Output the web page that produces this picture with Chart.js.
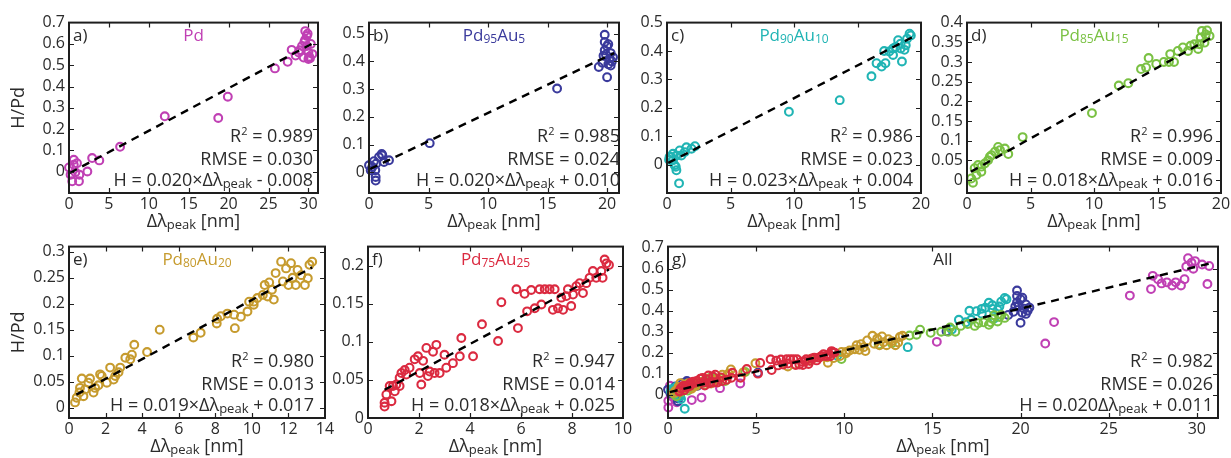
<!DOCTYPE html>
<html>
<head>
<meta charset="utf-8">
<script src="https://cdn.jsdelivr.net/npm/chart.js@4.4.0/dist/chart.umd.min.js"></script>
<style>
  body { margin: 0; background: #fff; width: 1231px; height: 458px; overflow: hidden; position: relative; }
  canvas { position: absolute; }
</style>
</head>
<body>
<script>
// ---- data: [Δλpeak (nm), H/Pd] ----
const pd = [[0,0.02],[0.2,-0.014],[0.4,-0.045],[0.6,0.033],[0.6,0.056],[0.8,-0.003],[1.0,0.04],[1.25,-0.045],[1.3,-0.014],
  [2.3,0.001],[2.9,0.064],[3.8,0.053],[6.4,0.117],[12.0,0.26],[18.7,0.252],[19.9,0.352],[25.8,0.485],[27.4,0.516],
  [27.9,0.572],[28.4,0.545],[28.8,0.56],[28.9,0.57],[29.2,0.59],[29.4,0.536],[29.6,0.66],[29.6,0.62],[29.8,0.637],
  [29.8,0.59],[30.0,0.529],[30.0,0.56],[30.1,0.54],[30.2,0.533],[30.5,0.552],[29.9,0.648],[29.5,0.61],[30.3,0.6]];
const pd95 = [[0,0.025],[0.14,0.007],[0.28,0.019],[0.42,0.04],[0.53,0.007],[0.56,-0.017],[0.56,-0.03],[0.6,0.031],
  [0.84,0.055],[1.07,0.066],[1.12,0.061],[1.26,0.037],[1.68,0.043],[5.1,0.105],[15.8,0.302],[19.3,0.38],[19.6,0.395],
  [19.7,0.42],[19.8,0.44],[19.8,0.47],[19.8,0.496],[20.0,0.455],[20.0,0.343],[20.1,0.462],[20.2,0.41],[20.3,0.43],
  [20.3,0.385],[20.4,0.4],[20.5,0.415],[19.9,0.425],[20.1,0.39]];
const pd90 = [[0.16,0.017],[0.2,0.027],[0.34,0.027],[0.47,0.015],[0.47,0.038],[0.6,-0.002],[0.69,-0.008],[0.74,0.032],
  [0.74,-0.02],[0.95,-0.066],[1.0,0.05],[1.13,0.032],[1.4,0.044],[1.53,0.061],[1.93,0.056],[2.2,0.065],[9.6,0.186],
  [13.6,0.227],[16.1,0.311],[16.5,0.357],[16.9,0.345],[17.1,0.4],[17.2,0.357],[17.5,0.398],[17.8,0.386],[17.8,0.409],
  [18.0,0.414],[18.2,0.438],[18.4,0.426],[18.4,0.409],[18.5,0.363],[18.7,0.404],[18.8,0.42],[18.9,0.443],[19.1,0.461],[19.2,0.455]];
const pd85 = [[0.34,0.004],[0.47,-0.007],[0.6,0.03],[0.74,0.013],[0.87,0.038],[1.13,0.034],[1.13,0.021],[1.4,0.042],
  [1.66,0.05],[1.8,0.059],[1.93,0.063],[2.2,0.072],[2.45,0.084],[2.6,0.076],[2.98,0.08],[3.25,0.066],[4.38,0.109],
  [9.84,0.17],[11.95,0.24],[12.7,0.246],[13.7,0.282],[14.1,0.286],[14.3,0.31],[14.9,0.295],[15.5,0.3],[15.9,0.3],
  [16.0,0.32],[16.3,0.3],[16.6,0.328],[17.0,0.337],[17.4,0.328],[17.6,0.341],[17.9,0.345],[18.2,0.333],[18.3,0.345],
  [18.4,0.362],[18.5,0.379],[18.7,0.349],[18.8,0.37],[18.9,0.38],[19.1,0.366]];
const pd80 = [[0.33,0.01],[0.42,0.019],[0.57,0.029],[0.6,0.038],[0.7,0.056],[0.79,0.022],[0.88,0.035],[1.06,0.048],
  [1.15,0.056],[1.34,0.029],[1.43,0.038],[1.61,0.043],[1.7,0.064],[1.79,0.061],[2.07,0.048],[2.25,0.077],[2.44,0.054],
  [2.53,0.061],[2.71,0.068],[2.8,0.077],[3.08,0.096],[3.35,0.093],[3.44,0.102],[3.57,0.121],[4.27,0.107],[4.96,0.15],
  [6.8,0.135],[7.2,0.144],[8.08,0.162],[8.1,0.171],[8.3,0.176],[8.66,0.181],[9.03,0.179],[9.07,0.153],[9.4,0.175],
  [9.76,0.185],[9.85,0.204],[10.1,0.204],[10.1,0.198],[10.3,0.211],[10.6,0.217],[10.7,0.236],[10.86,0.214],[10.95,0.241],
  [11.1,0.227],[11.2,0.208],[11.3,0.259],[11.6,0.281],[11.7,0.243],[11.87,0.268],[12.0,0.236],[12.14,0.278],[12.23,0.25],
  [12.4,0.236],[12.5,0.265],[12.7,0.255],[12.9,0.236],[13.06,0.249],[13.15,0.275],[13.3,0.281]];
const pd75 = [[0.65,0.015],[0.65,0.02],[0.72,0.031],[0.85,0.042],[0.98,0.042],[0.92,0.022],[1.05,0.035],[1.11,0.044],
  [1.24,0.053],[1.31,0.059],[1.44,0.063],[1.5,0.057],[1.63,0.066],[1.24,0.042],[1.83,0.077],[1.96,0.081],[2.03,0.059],
  [2.09,0.044],[2.16,0.075],[2.29,0.092],[2.35,0.055],[2.42,0.061],[2.55,0.087],[2.68,0.096],[2.61,0.059],[2.81,0.059],
  [3.0,0.083],[3.07,0.066],[3.33,0.072],[3.6,0.081],[3.66,0.105],[4.12,0.081],[4.47,0.123],[5.1,0.101],[5.23,0.152],
  [5.82,0.169],[5.88,0.118],[6.14,0.163],[6.24,0.14],[6.4,0.168],[6.54,0.144],[6.73,0.169],[6.8,0.149],[6.93,0.169],
  [7.12,0.169],[7.25,0.142],[7.32,0.169],[7.45,0.144],[7.65,0.142],[7.58,0.158],[7.78,0.16],[7.84,0.169],[7.97,0.147],
  [8.04,0.162],[8.17,0.173],[8.3,0.177],[8.43,0.164],[8.56,0.177],[8.69,0.184],[8.82,0.193],[8.95,0.184],[9.15,0.193],
  [9.2,0.184],[9.28,0.208],[9.35,0.203],[9.45,0.201]];
// Pd points as they appear in the combined panel g
const allPd = [[0.02,-0.028],[0.02,-0.06],[0.11,0.043],[0.3,-0.013],[0.5,-0.035],[0.6,0.02],[1.35,-0.025],[1.9,-0.013],
  [2.95,0.032],[4.1,0.054],[15.25,0.252],[21.4,0.244],[21.9,0.346],[26.2,0.472],[27.4,0.503],[27.5,0.566],[27.8,0.55],
  [28.0,0.53],[28.3,0.535],[28.6,0.52],[28.8,0.535],[29.1,0.52],[29.3,0.55],[29.4,0.61],[29.5,0.65],[29.7,0.628],
  [29.8,0.6],[29.9,0.636],[30.3,0.62],[30.7,0.613],[30.6,0.527]];

// fitted lines, end points as drawn
const fitA = [[0.1,-0.006],[30.4,0.6]];
const fitB = [[0.1,0.012],[20.6,0.43]];
const fitC = [[0.1,0.006],[19.3,0.448]];
const fitD = [[0.3,0.021],[19.3,0.363]];
const fitE = [[0.4,0.025],[13.3,0.27]];
const fitF = [[0.65,0.037],[9.45,0.195]];
const fitG = [[0.1,0.013],[31.0,0.63]];

// tick labels
const xTicks30 = [0, 5, 10, 15, 20, 25, 30];
const xTicks20 = [0, 5, 10, 15, 20];
const xTicks14 = [0, 2, 4, 6, 8, 10, 12, 14];
const xTicks10 = [0, 2, 4, 6, 8, 10];
const yTicks07 = [0, 0.1, 0.2, 0.3, 0.4, 0.5, 0.6, 0.7];
const yTicks05 = [0, 0.1, 0.2, 0.3, 0.4, 0.5];
const yTicks04 = [0, 0.05, 0.1, 0.15, 0.2, 0.25, 0.3, 0.35, 0.4];
const yTicks03 = [0, 0.05, 0.1, 0.15, 0.2, 0.25, 0.3];
const yTicks02 = [0, 0.05, 0.1, 0.15, 0.2];

const MAG = '#c040b4', BLUE = '#3a3a9c', CYAN = '#20b4b4', GREEN = '#7ac143', GOLD = '#c69b2e', RED = '#db2a40';
const INK = '#2b2b2b';
const FONT = "'Open Sans', sans-serif";

const panels = [
  { box: [69, 21, 318, 193], ml: 69, xMax: 31.2, yMin: -0.1, yMax: 0.7, xt: xTicks30, yt: yTicks07,
    series: [[pd, MAG]], fit: fitA, tag: 'a)', title: [['Pd', 0]], tcol: MAG, yTitle: true,
    r2: '0.989', rmse: '0.030', eq: ['H = 0.020×Δλ', ' - 0.008'], tx: 313 },
  { box: [369, 21, 619, 193], ml: 48, xMax: 21, yMin: -0.075, yMax: 0.54, xt: xTicks20, yt: yTicks05,
    series: [[pd95, BLUE]], fit: fitB, tag: 'b)', title: [['Pd', 0], ['95', 1], ['Au', 0], ['5', 1]], tcol: BLUE,
    r2: '0.985', rmse: '0.024', eq: ['H = 0.020×Δλ', ' + 0.010'], tx: 620 },
  { box: [667, 21, 921, 193], ml: 48, xMax: 20, yMin: -0.1, yMax: 0.5, xt: xTicks20, yt: yTicks05,
    series: [[pd90, CYAN]], fit: fitC, tag: 'c)', title: [['Pd', 0], ['90', 1], ['Au', 0], ['10', 1]], tcol: CYAN,
    r2: '0.986', rmse: '0.023', eq: ['H = 0.023×Δλ', ' + 0.004'], tx: 913 },
  { box: [967, 21, 1221, 193], ml: 48, xMax: 20, yMin: -0.033, yMax: 0.4, xt: xTicks20, yt: yTicks04,
    series: [[pd85, GREEN]], fit: fitD, tag: 'd)', title: [['Pd', 0], ['85', 1], ['Au', 0], ['15', 1]], tcol: GREEN,
    r2: '0.996', rmse: '0.009', eq: ['H = 0.018×Δλ', ' + 0.016'], tx: 1213 },
  { box: [69, 245, 325, 418], ml: 69, xMax: 14, yMin: -0.02, yMax: 0.31, xt: xTicks14, yt: yTicks03,
    series: [[pd80, GOLD]], fit: fitE, tag: 'e)', title: [['Pd', 0], ['80', 1], ['Au', 0], ['20', 1]], tcol: GOLD, yTitle: true,
    r2: '0.980', rmse: '0.013', eq: ['H = 0.019×Δλ', ' + 0.017'], tx: 314 },
  { box: [368, 245, 623, 418], ml: 48, xMax: 10, yMin: 0, yMax: 0.225, xt: xTicks10, yt: yTicks02,
    series: [[pd75, RED]], fit: fitF, tag: 'f)', title: [['Pd', 0], ['75', 1], ['Au', 0], ['25', 1]], tcol: RED,
    r2: '0.947', rmse: '0.014', eq: ['H = 0.018×Δλ', ' + 0.025'], tx: 615 },
  { box: [668, 245, 1218, 418], ml: 48, xMax: 31.2, yMin: -0.11, yMax: 0.705, xt: xTicks30, yt: yTicks07,
    series: [[pd75, RED], [pd80, GOLD], [pd85, GREEN], [pd90, CYAN], [pd95, BLUE], [allPd, MAG]], fit: fitG,
    tag: 'g)', title: [['All', 0]], tcol: INK,
    r2: '0.982', rmse: '0.026', eq: ['H = 0.020Δλ', ' + 0.011'], tx: 1213 }
];

const fmt = v => String(+Number(v).toFixed(2));

// text with sub/superscript runs: kind 0 normal, 1 subscript, 2 superscript
function drawRuns(ctx, runs, x, y, size, align, color) {
  const fontOf = k => `${k === 0 ? size : Math.round(size * (k === 2 ? 0.62 : 0.72))}px ${FONT}`;
  let w = 0;
  for (const [t, k] of runs) { ctx.font = fontOf(k); w += ctx.measureText(t).width; }
  let cx = align === 'right' ? x - w : align === 'center' ? x - w / 2 : x;
  ctx.save();
  ctx.fillStyle = color;
  ctx.textAlign = 'left';
  ctx.textBaseline = 'alphabetic';
  for (const [t, k] of runs) {
    ctx.font = fontOf(k);
    const dy = k === 1 ? size * 0.12 : k === 2 ? -size * 0.4 : 0;
    ctx.fillText(t, cx, y + dy);
    cx += ctx.measureText(t).width;
  }
  ctx.restore();
}

function makePanel(p) {
  const [l, t, r, b] = p.box;
  const padTop = 12, padRight = 16, xh = 44;
  const cv = document.createElement('canvas');
  cv.width = r - l + p.ml + padRight;
  cv.height = b - t + padTop + xh;
  cv.style.left = (l - p.ml) + 'px';
  cv.style.top = (t - padTop) + 'px';
  document.body.appendChild(cv);

  const datasets = [{
    data: p.fit.map(([x, y]) => ({ x, y })), showLine: true, borderColor: '#000', borderWidth: 2.4,
    borderDash: [8, 6], pointRadius: 0, fill: false
  }];
  p.series.forEach(([pts, col]) => datasets.push({
    data: pts.map(([x, y]) => ({ x, y })), showLine: false, pointRadius: 3.9, pointBorderWidth: 2.1,
    borderColor: col, backgroundColor: 'rgba(0,0,0,0)', clip: false
  }));

  const deco = {
    id: 'deco',
    afterDatasetsDraw(chart) {
      const { ctx, chartArea: a, scales: { x, y } } = chart;
      ctx.save();
      ctx.strokeStyle = '#1e1e1e';
      ctx.lineWidth = 1.2;
      ctx.beginPath();
      p.xt.forEach(v => {
        const px = Math.round(x.getPixelForValue(v)) + 0.5;
        if (px - a.left < 2 || a.right - px < 2) return;
        ctx.moveTo(px, a.bottom); ctx.lineTo(px, a.bottom - 5);
        ctx.moveTo(px, a.top); ctx.lineTo(px, a.top + 5);
      });
      p.yt.forEach(v => {
        const py = Math.round(y.getPixelForValue(v)) + 0.5;
        if (py - a.top < 2 || a.bottom - py < 2) return;
        ctx.moveTo(a.left, py); ctx.lineTo(a.left + 5, py);
        ctx.moveTo(a.right, py); ctx.lineTo(a.right - 5, py);
      });
      ctx.stroke();
      ctx.lineWidth = 2;
      ctx.strokeRect(a.left, a.top, a.right - a.left, a.bottom - a.top);
      ctx.restore();
    },
    afterDraw(chart) {
      const { ctx, chartArea: a } = chart;
      const off = l - p.ml;
      const cxm = (a.left + a.right) / 2;
      drawRuns(ctx, [[p.tag, 0]], a.left + 4, a.top + 18, 17, 'left', INK);
      drawRuns(ctx, p.title, cxm, a.top + 18, 17, 'center', p.tcol);
      const tx = p.tx - off;
      drawRuns(ctx, [['R', 0], ['2', 2], [' = ' + p.r2, 0]], tx, a.bottom - 51, 18, 'right', INK);
      drawRuns(ctx, [['RMSE = ' + p.rmse, 0]], tx, a.bottom - 28, 18, 'right', INK);
      drawRuns(ctx, [[p.eq[0], 0], ['peak', 1], [p.eq[1], 0]], tx, a.bottom - 7, 18, 'right', INK);
      drawRuns(ctx, [['Δλ', 0], ['peak', 1], [' [nm]', 0]], cxm, a.bottom + 34, 18, 'center', INK);
      if (p.yTitle) {
        ctx.save();
        ctx.translate(18, (a.top + a.bottom) / 2);
        ctx.rotate(-Math.PI / 2);
        drawRuns(ctx, [['H/Pd', 0]], 0, 6, 18, 'center', INK);
        ctx.restore();
      }
    }
  };

  const tickFont = { family: FONT, size: 16 };
  new Chart(cv, {
    type: 'scatter',
    data: { datasets },
    options: {
      responsive: false,
      animation: false,
      events: [],
      layout: { padding: { top: padTop, right: padRight, left: 0, bottom: 0 } },
      plugins: { legend: { display: false }, tooltip: { enabled: false } },
      scales: {
        x: {
          type: 'linear', min: 0, max: p.xMax,
          grid: { display: false, drawTicks: false }, border: { display: false },
          ticks: { font: tickFont, color: INK, padding: 2, maxRotation: 0, autoSkip: false, callback: fmt },
          afterBuildTicks: s => { s.ticks = p.xt.map(v => ({ value: v })); },
          afterFit: s => { s.height = xh; }
        },
        y: {
          type: 'linear', min: p.yMin, max: p.yMax,
          grid: { display: false, drawTicks: false }, border: { display: false },
          ticks: { font: tickFont, color: INK, padding: 4, autoSkip: false, callback: fmt },
          afterBuildTicks: s => { s.ticks = p.yt.map(v => ({ value: v })); },
          afterFit: s => { s.width = p.ml; }
        }
      }
    },
    plugins: [deco]
  });
}

document.fonts.load("16px 'Open Sans'").then(() => panels.forEach(makePanel), () => panels.forEach(makePanel));
</script>
</body>
</html>
